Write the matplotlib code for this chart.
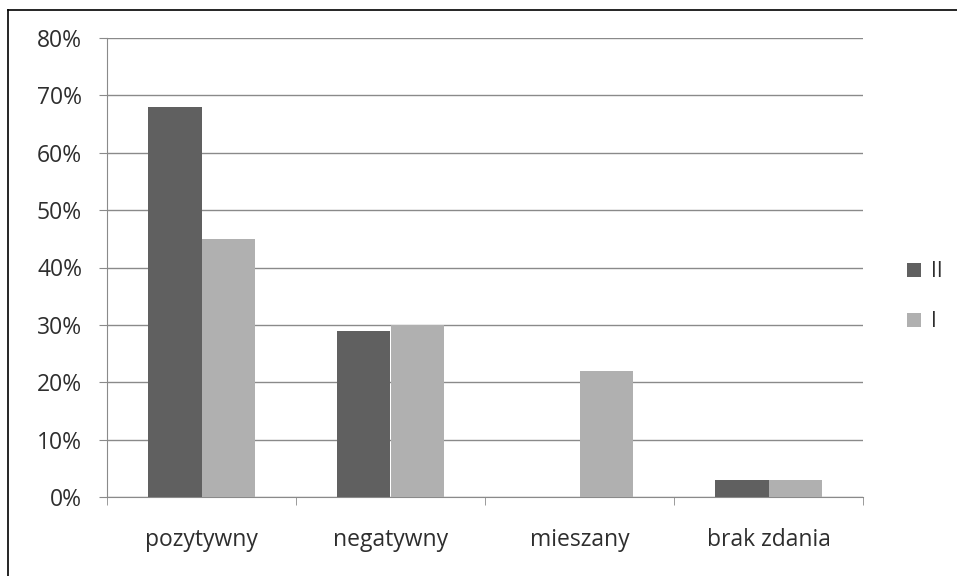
import numpy as np
import matplotlib
matplotlib.use('Agg')
import matplotlib.pyplot as plt
from matplotlib.lines import Line2D
from matplotlib.ticker import PercentFormatter, FixedLocator

# data
categories = ['pozytywny', 'negatywny', 'mieszany', 'brak zdania']
series_names = ['II', 'I']
values_II = [68, 29, 0, 3]
values_I = [45, 30, 22, 3]
y_ticks = [0, 10, 20, 30, 40, 50, 60, 70, 80]

plt.rcParams['font.family'] = ['Open Sans', 'DejaVu Sans']
txt = '#2e2e2e'
axis_grey = '#8a8a8a'

fig = plt.figure(figsize=(9.57, 5.76), dpi=100)
ax = fig.add_axes([107 / 957, 1 - 497 / 576, (863 - 107) / 957, (497 - 38) / 576])

x = np.arange(len(categories))
w = 0.284
ax.bar(x - w / 2, values_II, w, color='#606060', label=series_names[0], zorder=3)
ax.bar(x + w / 2, values_I, w, color='#b0b0b0', label=series_names[1], zorder=3)

ax.set_xlim(-0.5, len(categories) - 0.5)
ax.set_ylim(0, 80)
ax.yaxis.set_major_locator(FixedLocator(y_ticks))
ax.yaxis.set_major_formatter(PercentFormatter(decimals=0))
ax.grid(axis='y', color=axis_grey, linewidth=1, zorder=0)

# category labels centred, tick marks on group boundaries
ax.set_xticks(x)
ax.set_xticklabels(categories)
ax.tick_params(axis='x', length=0, pad=22, labelsize=16.5, labelcolor=txt)
ax.set_xticks(np.arange(len(categories) + 1) - 0.5, minor=True)
ax.tick_params(axis='x', which='minor', length=6, color=axis_grey, direction='out')
ax.tick_params(axis='y', length=6, color=axis_grey, labelsize=16.5, labelcolor=txt, pad=12)

for s in ['top', 'right']:
    ax.spines[s].set_visible(False)
ax.spines['left'].set_color(axis_grey)
ax.spines['bottom'].set_color(axis_grey)

leg = fig.legend(loc='upper left', bbox_to_anchor=(907 / 957, 1 - 261 / 576),
                 frameon=False, fontsize=15, borderpad=0, borderaxespad=0,
                 handlelength=0.65, handleheight=0.65,
                 labelspacing=1.4, handletextpad=0.5)
for t in leg.get_texts():
    t.set_color(txt)

# outer frame (only left and top edges are visible)
fig.add_artist(Line2D([8 / 957, 8 / 957], [0, 1 - 10 / 576], color='black', linewidth=1.2))
fig.add_artist(Line2D([8 / 957, 1], [1 - 10 / 576, 1 - 10 / 576], color='black', linewidth=1.2))

fig.savefig('out.png', dpi=100)
